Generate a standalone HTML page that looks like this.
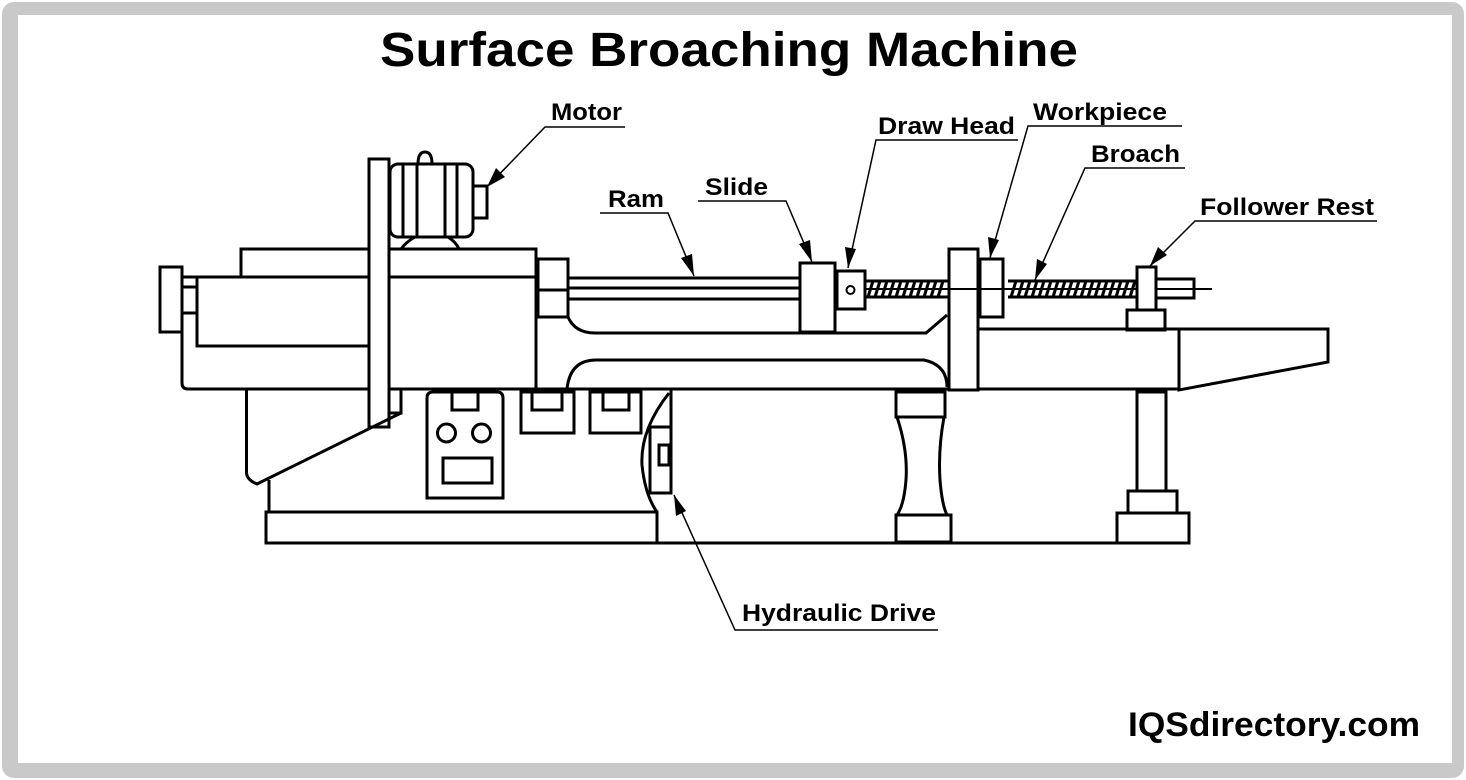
<!DOCTYPE html>
<html><head><meta charset="utf-8"><style>
html,body{margin:0;padding:0;background:#fff;}
svg{display:block;}
text{font-family:"Liberation Sans",Arial,sans-serif;font-weight:bold;fill:#000;}
</style></head><body>
<svg width="1466" height="780" viewBox="0 0 1466 780" xmlns="http://www.w3.org/2000/svg">
<rect x="2" y="2" width="1462" height="776" rx="12" fill="#c9c9c9"/>
<rect x="18" y="15" width="1434" height="748" fill="#fff"/>
<text x="729" y="66" text-anchor="middle" font-size="48" textLength="698" lengthAdjust="spacingAndGlyphs">Surface Broaching Machine</text>

<g fill="none" stroke="#000" stroke-width="3" stroke-linejoin="miter">
<rect x="160" y="267" width="22" height="65" fill="#fff"/>
<rect x="182" y="277" width="15" height="36"/>
<line x1="182" y1="287" x2="197" y2="287"/>
<path d="M182 313 V383 Q182 389 188 389 H1179"/>
<rect x="197" y="277" width="172" height="69"/>
<rect x="241" y="249" width="295" height="28"/>
<line x1="369" y1="277" x2="536" y2="277"/>
<line x1="536" y1="249" x2="536" y2="389"/>
<rect x="369" y="159" width="20" height="268" fill="#fff"/>
<path d="M389 389 V413 H401 V389"/>
<path d="M401 413 L257 484 Q247 480 246.5 473 V390"/>
<path d="M269 480 V512"/>
<rect x="266" y="512" width="391" height="31"/>
<line x1="657" y1="543" x2="1190" y2="543"/>
<!-- motor -->
<rect x="390" y="164" width="83" height="73" rx="8" fill="#fff"/>
<line x1="403" y1="164" x2="403" y2="237"/>
<line x1="417" y1="164" x2="417" y2="237"/>
<line x1="445" y1="164" x2="445" y2="237"/>
<line x1="457" y1="164" x2="457" y2="237"/>
<path d="M418 164 Q418 152 425 152 Q432 152 432 164"/>
<rect x="473" y="186" width="14" height="32"/>
<path d="M401 249 Q406 242 415 237 M448 237 Q456 242 459 249"/>
<rect x="538" y="259" width="30" height="58"/>
<line x1="538" y1="290" x2="568" y2="290"/>
<line x1="568" y1="278" x2="800" y2="278"/>
<line x1="568" y1="288" x2="800" y2="288"/>
<line x1="568" y1="299" x2="800" y2="299"/>
<path d="M568 317 Q575 333 595 333 H926 L947 315"/>
<path d="M567 389 Q570 360 596 360 H924 Q947 365 947 387"/>
<path d="M427 498 V398 Q427 392 433 392 H497 Q503 392 503 398 V498 Z"/>
<rect x="452" y="392" width="26" height="18"/>
<circle cx="446.5" cy="433" r="9"/>
<circle cx="481.5" cy="433" r="9"/>
<rect x="443" y="458" width="49" height="25"/>
<rect x="521" y="392" width="53" height="41"/>
<rect x="532" y="392" width="30" height="18"/>
<rect x="590" y="392" width="51" height="41"/>
<rect x="603" y="392" width="26" height="18"/>
<path d="M669 393 Q640 430 642 465 Q645 495 657 512"/>
<rect x="650" y="427" width="21" height="66"/>
<rect x="659" y="445" width="10" height="20"/>
<line x1="671" y1="389" x2="671" y2="493"/>
<rect x="800" y="263" width="35" height="69" fill="#fff"/>
<rect x="837" y="271" width="28" height="38" fill="#fff"/>
<circle cx="850.5" cy="290" r="4" stroke-width="2"/>
<rect x="949" y="249" width="29" height="141" fill="#fff"/>
<rect x="980" y="259" width="23" height="58" fill="#fff"/>
<rect x="1137" y="267" width="19" height="43" fill="#fff"/>
<rect x="1127" y="310" width="38" height="20"/>
<rect x="1156" y="279" width="38" height="19"/>
<line x1="1156" y1="289" x2="1212" y2="289" stroke-width="2"/>
<path d="M978 329 H1328 V362 L1179 390 V329"/>
<rect x="896" y="392" width="49" height="25"/>
<path d="M897 417 Q908 450 906 480 Q904 505 897 515 M944 417 Q938 450 940 480 Q942 505 947 515"/>
<rect x="896" y="515" width="55" height="27"/>
<rect x="1137" y="392" width="29" height="99"/>
<rect x="1128" y="491" width="49" height="22"/>
<rect x="1117" y="513" width="72" height="30"/>
</g>
<g stroke="#000" stroke-width="3">
<line x1="865" y1="281" x2="949" y2="281"/>
<line x1="865" y1="297" x2="949" y2="297"/>
<line x1="1008" y1="281" x2="1137" y2="281"/>
<line x1="1008" y1="297" x2="1137" y2="297"/>
</g>
<g stroke="#000" stroke-width="3">
<path d="M868 297 l5 -16 M875 297 l5 -16 M882 297 l5 -16 M889 297 l5 -16 M896 297 l5 -16 M903 297 l5 -16 M910 297 l5 -16 M917 297 l5 -16 M924 297 l5 -16 M931 297 l5 -16 M938 297 l5 -16"/>
<path d="M1011 297 l5 -16 M1018 297 l5 -16 M1025 297 l5 -16 M1032 297 l5 -16 M1039 297 l5 -16 M1046 297 l5 -16 M1053 297 l5 -16 M1060 297 l5 -16 M1067 297 l5 -16 M1074 297 l5 -16 M1081 297 l5 -16 M1088 297 l5 -16 M1095 297 l5 -16 M1102 297 l5 -16 M1109 297 l5 -16 M1116 297 l5 -16 M1123 297 l5 -16 M1130 297 l5 -16"/>
</g>
<line x1="865" y1="289" x2="1137" y2="289" stroke="#000" stroke-width="2"/>

<g font-size="24">
<text x="551" y="120" textLength="71" lengthAdjust="spacingAndGlyphs">Motor</text>
<text x="608" y="207" textLength="56" lengthAdjust="spacingAndGlyphs">Ram</text>
<text x="705" y="195" textLength="63" lengthAdjust="spacingAndGlyphs">Slide</text>
<text x="878" y="134" textLength="137" lengthAdjust="spacingAndGlyphs">Draw Head</text>
<text x="1033" y="120" textLength="134" lengthAdjust="spacingAndGlyphs">Workpiece</text>
<text x="1091" y="162" textLength="89" lengthAdjust="spacingAndGlyphs">Broach</text>
<text x="1200" y="215" textLength="174" lengthAdjust="spacingAndGlyphs">Follower Rest</text>
<text x="742" y="621" textLength="194" lengthAdjust="spacingAndGlyphs">Hydraulic Drive</text>
</g>
<text x="1128" y="736" font-size="34" textLength="292" lengthAdjust="spacingAndGlyphs">IQSdirectory.com</text>

<g stroke="#000" stroke-width="1.5" fill="none">
<path d="M625 127 H545 L487 187"/>
<path d="M600 213 H668 L694 276"/>
<path d="M698 201 H786 L812 262"/>
<path d="M1018 140 H876 L848 268"/>
<path d="M1182 126 H1028 L990 258"/>
<path d="M1185 168 H1085 L1035 280"/>
<path d="M1377 221 H1195 L1150 266"/>
<path d="M938 630 H735 L674 495"/>
</g>
<g fill="#000">
<polygon points="487,187 496,168 505,177"/>
<polygon points="694,276 681,258 692,254"/>
<polygon points="812,262 799,244 810,240"/>
<polygon points="848,268 845,247 856,249"/>
<polygon points="990,258 988,237 999,240"/>
<polygon points="1035,280 1037,259 1047,264"/>
<polygon points="1150,266 1158,247 1167,255"/>
<polygon points="674,495 676,516 686,511"/>
</g>
</svg>
</body></html>
